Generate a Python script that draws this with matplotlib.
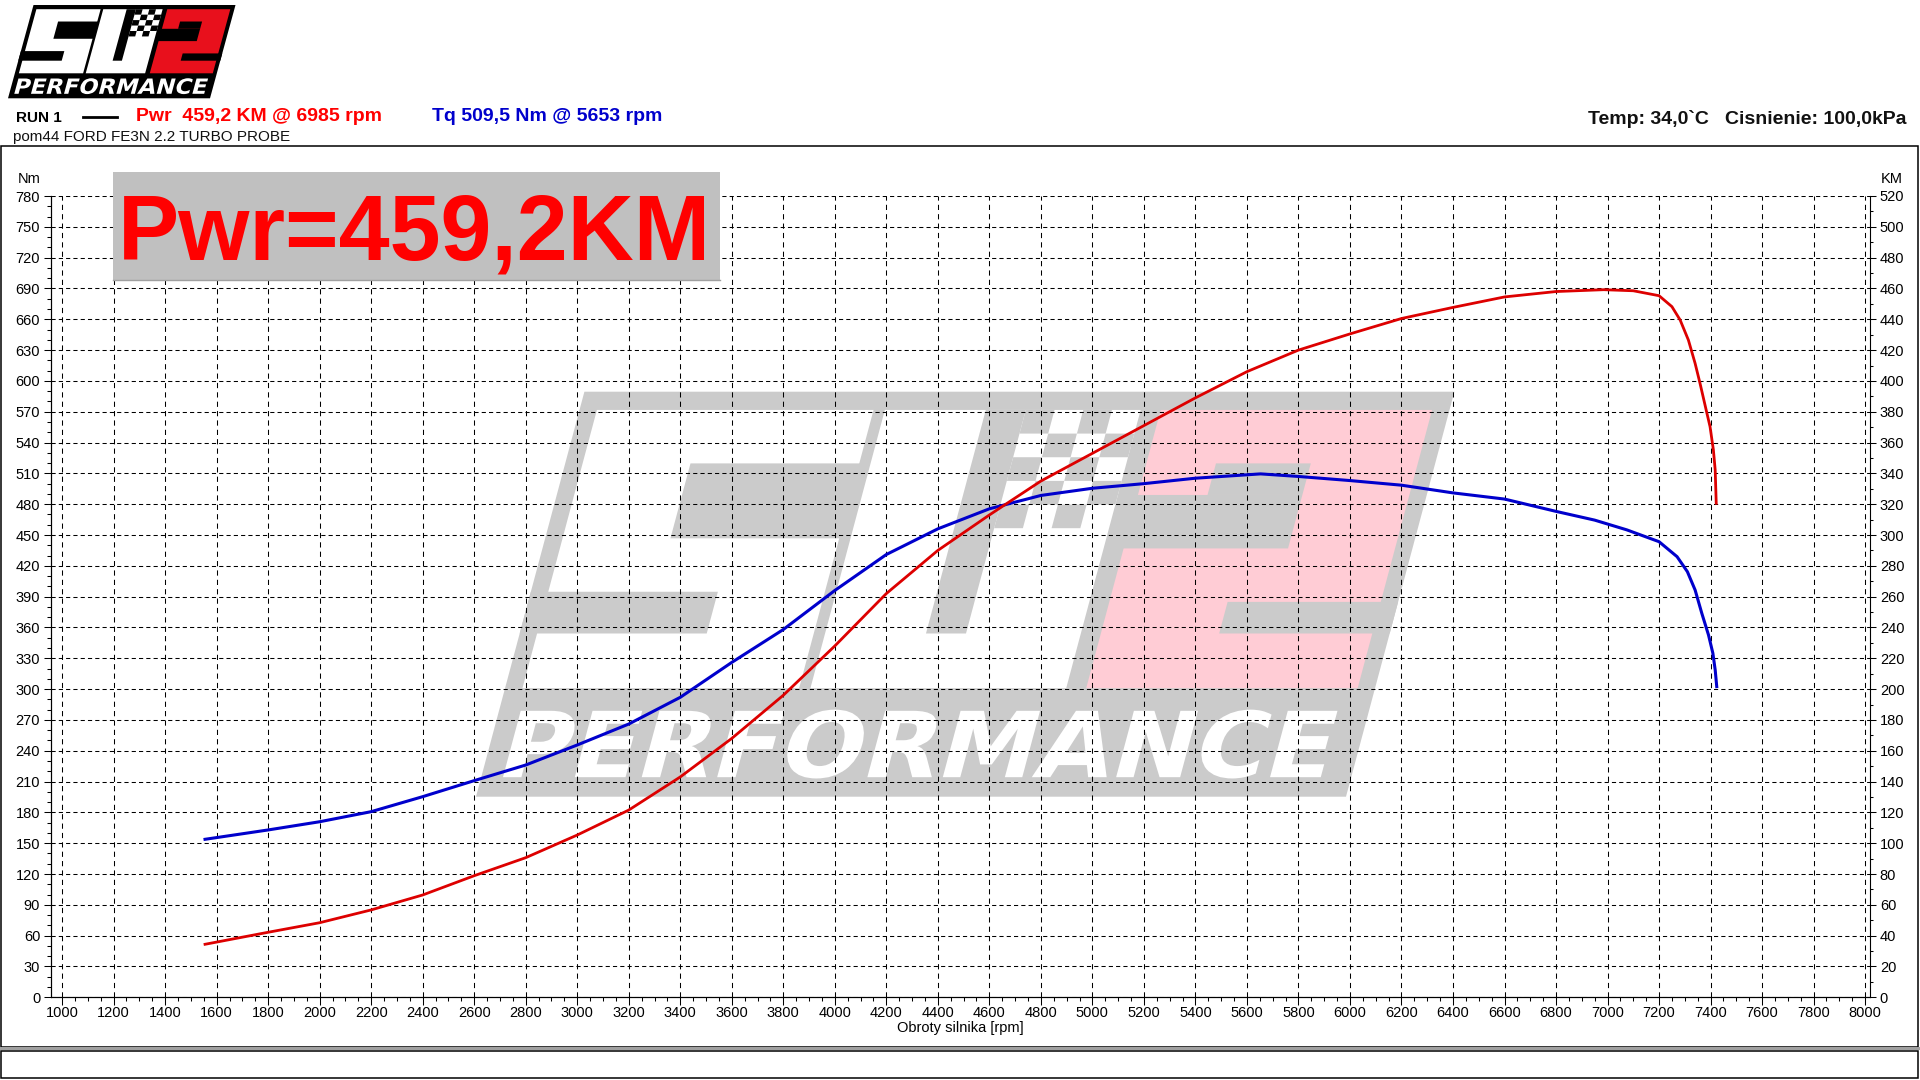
import numpy as np
import matplotlib
matplotlib.use("Agg")
import matplotlib.pyplot as plt
from matplotlib.patches import Rectangle, PathPatch
from matplotlib.textpath import TextPath
from matplotlib.font_manager import FontProperties
from matplotlib.transforms import Affine2D
from matplotlib.ticker import MultipleLocator

plt.rcParams["font.family"] = ["Liberation Sans", "DejaVu Sans"]

# --- data ---
rpm_tq = [1555, 1800, 2000, 2200, 2400, 2600, 2800, 3000, 3200, 3400, 3600,
          3800, 4000, 4200, 4400, 4600, 4800, 5000, 5200, 5400, 5653, 5800,
          6000, 6200, 6400, 6600, 6800, 6950, 7075, 7200, 7270, 7310, 7340,
          7366, 7392, 7409, 7418, 7424]
tq_nm = [153.8, 162.9, 170.9, 180.7, 195.3, 210.9, 226.1, 245.6, 266.0, 292.0,
         326.0, 358.0, 396.0, 431.0, 456.0, 475.5, 488.5, 495.5, 500.0, 505.3,
         509.5, 507.0, 503.0, 498.5, 491.0, 485.0, 473.0, 464.5, 455.0, 443.5,
         428.9, 414.3, 396.5, 373.8, 352.7, 334.9, 318.6, 302.4]

rpm_pwr = [1555, 1800, 2000, 2200, 2400, 2600, 2800, 3000, 3200, 3400, 3600,
           3800, 4000, 4200, 4400, 4600, 4800, 5000, 5200, 5400, 5600, 5800,
           6000, 6200, 6400, 6600, 6800, 6985, 7100, 7200, 7250, 7282, 7314,
           7340, 7359, 7383, 7398, 7411, 7418, 7422]
pwr_km = [34.4, 42.2, 48.4, 56.7, 66.4, 78.9, 90.6, 105.3, 121.5, 143.0, 168.0,
          196.0, 228.0, 262.0, 290.0, 313.0, 335.0, 353.0, 371.0, 389.0, 406.0,
          420.0, 430.5, 440.5, 447.7, 454.5, 458.0, 459.2, 458.5, 455.3, 448.2,
          439.5, 426.5, 411.4, 398.5, 381.1, 370.3, 355.2, 342.2, 320.6]

run_name = "RUN 1"
car_name = "pom44 FORD FE3N 2.2 TURBO PROBE"
pwr_peak, pwr_peak_rpm = 459.2, 6985
tq_peak, tq_peak_rpm = 509.5, 5653
temp_c, pressure_kpa = 34.0, 100.0


def pl(v):
    return f"{v:.1f}".replace(".", ",")


W_PX, H_PX = 1920, 1080
fig = plt.figure(figsize=(W_PX / 100, H_PX / 100), dpi=100)

# background layer in pixel coordinates (y grows downwards)
bg = fig.add_axes([0, 0, 1, 1], zorder=0)
bg.set_xlim(0, W_PX)
bg.set_ylim(H_PX, 0)
bg.axis("off")


def draw_logo(x0, y0, w, h, skew, body, letters, two):
    # unit square (u to the right, v up) -> slanted box on the page
    tf = Affine2D(np.array([[w, skew, x0], [0, -h, y0], [0, 0, 1]])) + bg.transData

    def box(u0, v0, u1, v1, c):
        bg.add_patch(Rectangle((u0, v0), u1 - u0, v1 - v0, fc=c, ec="none",
                               transform=tf))

    box(0, 0, 1, 1, body)
    # S
    box(0.02, 0.268, 0.338, 0.955, letters)
    box(0.144, 0.638, 0.36, 0.823, body)
    box(0.0, 0.403, 0.215, 0.506, body)
    # V with the chequered flag
    box(0.351, 0.268, 0.645, 0.955, letters)
    box(0.467, 0.403, 0.513, 0.955, body)
    du, dv = 0.033, 0.0584
    for i in range(4):
        for j in range(5):
            if (i + j) % 2 == 0:
                box(0.513 + i * du, 0.663 + j * dv,
                    0.513 + (i + 1) * du, 0.663 + (j + 1) * dv, body)
    # 2
    box(0.668, 0.268, 0.98, 0.955, two)
    box(0.66, 0.613, 0.857, 0.745, body)
    box(0.748, 0.745, 0.857, 0.823, body)
    box(0.804, 0.403, 1.0, 0.481, body)
    # PERFORMANCE
    tp = TextPath((0, 0), "PERFORMANCE", size=1,
                  prop=FontProperties(family="DejaVu Sans", weight="bold"))
    ext = tp.get_extents()
    fit = (Affine2D().translate(-ext.x0, -ext.y0)
           .scale(0.94 / ext.width, 0.17 / ext.height).translate(0.025, 0.045))
    bg.add_patch(PathPatch(fit.transform_path(tp), fc=letters, ec="none",
                           transform=tf))


# logo top-left and the big watermark behind the plot
draw_logo(8, 98.3, 202, 93.3, 25.5, "#000000", "#ffffff", "#e8101c")
draw_logo(476, 796.7, 870, 405, 108.4, "#cbcbcb", "#ffffff", "#ffccd5")

# frames
bg.add_patch(Rectangle((1, 146), 1917, 900.7, fill=False, ec="k", lw=1.1))
bg.add_patch(Rectangle((0, 1047.3), W_PX, 3, fc="#a0a0a0", ec="none"))
bg.add_patch(Rectangle((1, 1050.5), 1917, 27.8, fill=False, ec="k", lw=1.1))

# header
bg.text(15.6, 122, run_name, fontsize=11, fontweight="bold", va="baseline")
bg.plot([83, 117], [117, 117], color="k", lw=2)
bg.text(136, 121, f"Pwr  {pl(pwr_peak)} KM @ {pwr_peak_rpm} rpm", color="#ff0000",
        fontsize=14, fontweight="bold", va="baseline")
bg.text(432, 121, f"Tq {pl(tq_peak)} Nm @ {tq_peak_rpm} rpm", color="#0000cc",
        fontsize=14, fontweight="bold", va="baseline")
bg.text(1906, 124, f"Temp: {pl(temp_c)}`C   Cisnienie: {pl(pressure_kpa)}kPa",
        color="#111111", fontsize=14, fontweight="bold", ha="right", va="baseline")
bg.text(13.4, 141, car_name, fontsize=11, va="baseline", color="#111111")
bg.text(29, 179, "Nm", fontsize=10.5, ha="center", va="center")
bg.text(1892, 179, "KM", fontsize=10.5, ha="center", va="center")

# main chart
L, R = 51 / W_PX, 1870 / W_PX
B, T = (H_PX - 997.3) / H_PX, (H_PX - 196) / H_PX
ax = fig.add_axes([L, B, R - L, T - B], zorder=1)
ax.patch.set_visible(False)
ax.set_xlim(957, 8019)
ax.set_ylim(0, 780)
ax.xaxis.set_major_locator(MultipleLocator(200))
ax.xaxis.set_minor_locator(MultipleLocator(50))
ax.yaxis.set_major_locator(MultipleLocator(30))
ax.yaxis.set_minor_locator(MultipleLocator(10))
ax.spines["top"].set_visible(False)
ax.spines["right"].set_visible(False)
for s in ax.spines.values():
    s.set_linewidth(0.8)
ax.tick_params(axis="x", which="major", length=5.5, width=0.75, labelsize=10.5, pad=0.5)
ax.tick_params(axis="x", which="minor", length=2.7, width=0.75)
ax.tick_params(axis="y", which="major", length=4.8, width=0.75, labelsize=10.5, pad=3)
ax.tick_params(axis="y", which="minor", length=2.9, width=0.75)
ax.grid(which="major", axis="x", color="k", lw=0.75, ls=(0, (5, 4)))
ax.grid(which="major", axis="y", color="k", lw=0.75, ls=(0, (4, 3)))
ax.set_xlabel("Obroty silnika [rpm]", fontsize=10.5, labelpad=1)

ax2 = ax.twinx()
ax2.set_ylim(0, 520)
ax2.yaxis.set_major_locator(MultipleLocator(20))
ax2.yaxis.set_minor_locator(MultipleLocator(10))
ax2.spines["top"].set_visible(False)
for s in ax2.spines.values():
    s.set_linewidth(0.8)
ax2.tick_params(axis="y", which="major", length=4.1, width=0.75, labelsize=10.5, pad=3)
ax2.tick_params(axis="y", which="minor", length=2.4, width=0.75)

ax.plot(rpm_tq, tq_nm, color="#0000cc", lw=2.2, solid_joinstyle="round")
ax2.plot(rpm_pwr, pwr_km, color="#dd0000", lw=2.0, solid_joinstyle="round")

# big power badge on top of the grid
fg = fig.add_axes([0, 0, 1, 1], zorder=3)
fg.set_xlim(0, W_PX)
fg.set_ylim(H_PX, 0)
fg.axis("off")
fg.add_patch(Rectangle((113, 172), 607, 108, fc="#c0c0c0", ec="none"))
fg.plot([113, 720], [280, 280], color="#a0a0a0", lw=1)
fg.text(118, 260, f"Pwr={pl(pwr_peak)}KM", color="#ff0000", fontsize=66,
        fontweight="bold", va="baseline")

fig.savefig("out.png", dpi=100)
